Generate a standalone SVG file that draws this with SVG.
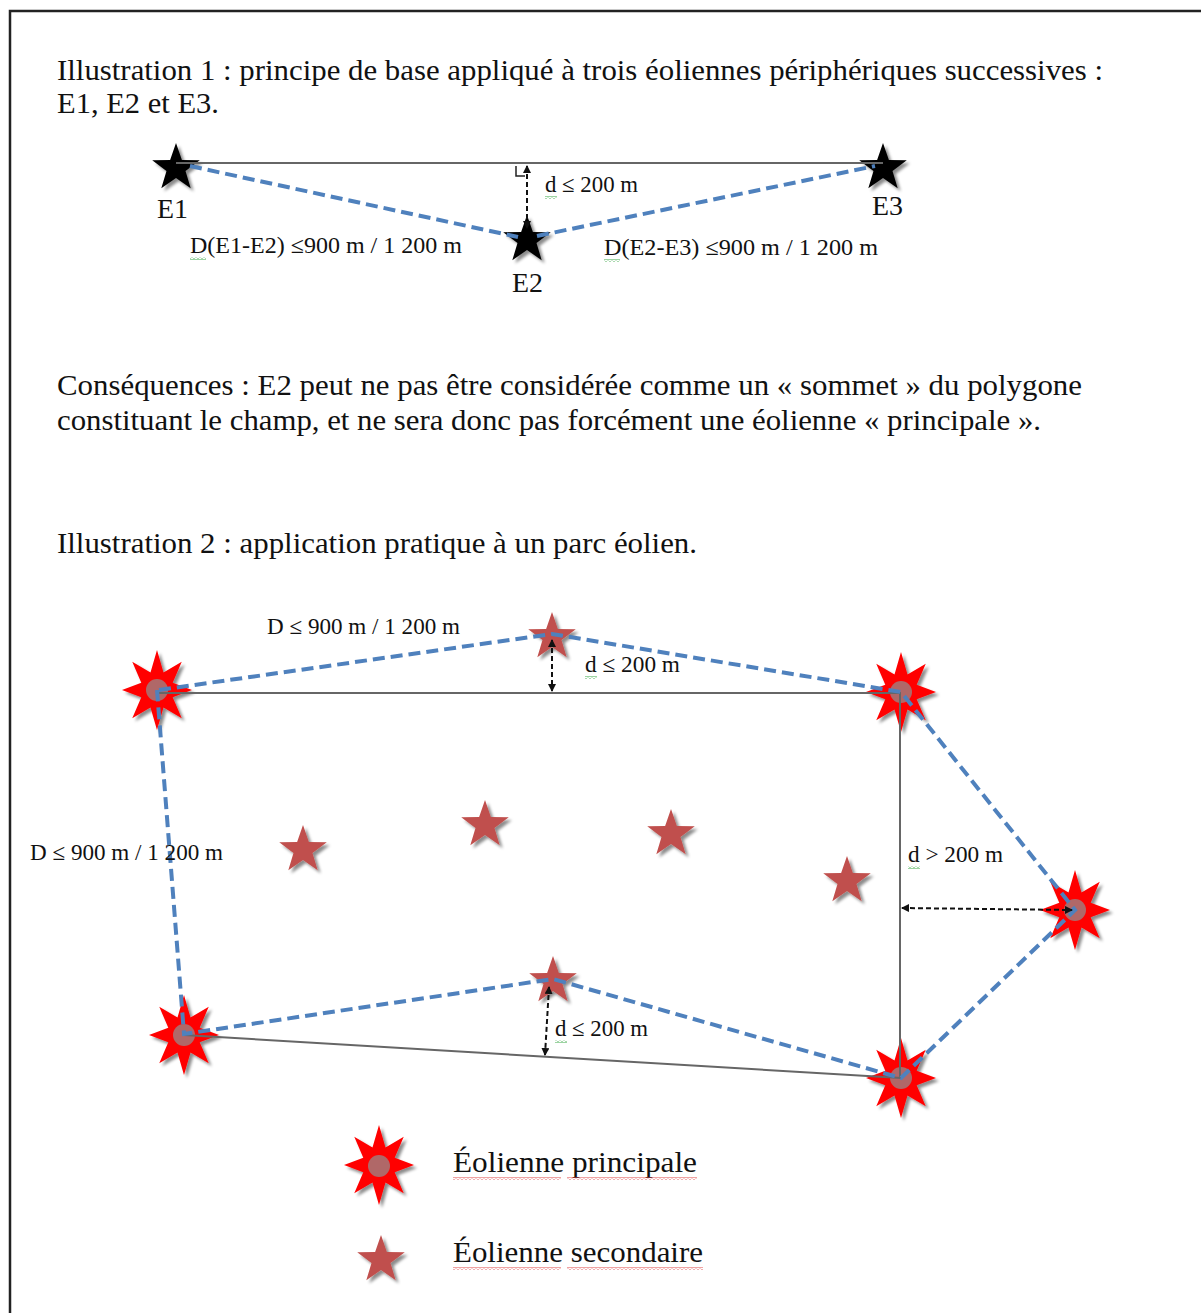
<svg xmlns="http://www.w3.org/2000/svg" width="1201" height="1313" viewBox="0 0 1201 1313">
<style>
.t{font-family:"Liberation Serif","Times New Roman",serif;fill:#111;}
.h{font-size:30px;}
.l{font-size:23px;}
.lg{font-size:30px;}
.blue{fill:none;stroke:#4F81BD;stroke-width:4;stroke-dasharray:12 6;}
.gray{fill:none;stroke:#666;stroke-width:2;}
.arr{fill:none;stroke:#111;stroke-width:2;stroke-dasharray:5 3;marker-start:url(#ah);marker-end:url(#ah);}
.prim{fill:#FF0000;}
.hub{fill:#B06868;}
.sec{fill:#C0504D;}
.blk{fill:#000;}
</style>
<defs>
<filter id="sh" x="-30%" y="-30%" width="160%" height="160%">
<feDropShadow dx="3" dy="3" stdDeviation="1.5" flood-color="#000" flood-opacity="0.45"/>
</filter>
<path id="star8" d="M0,-40 L6.51,-17.55 L24.75,-28.28 L15.71,-7.27 L35,0 L15.71,7.27 L24.75,28.28 L6.51,17.55 L0,40 L-6.51,17.55 L-24.75,28.28 L-15.71,7.27 L-35,0 L-15.71,-7.27 L-24.75,-28.28 L-6.51,-17.55 Z"/>
<path id="star5" d="M0,-25 L5.88,-8.09 L23.78,-7.73 L9.51,3.09 L14.69,20.23 L0,10 L-14.69,20.23 L-9.51,3.09 L-23.78,-7.73 L-5.88,-8.09 Z"/>
<marker id="ah" viewBox="0 0 8 8" refX="7" refY="4" markerWidth="8" markerHeight="8" markerUnits="userSpaceOnUse" orient="auto-start-reverse">
<path d="M0,0 L8,4 L0,8 Z" fill="#111"/>
</marker>
<pattern id="zr" width="4" height="3" patternUnits="userSpaceOnUse">
<path d="M0,2.5 L2,0.5 L4,2.5" fill="none" stroke="#e04848" stroke-width="1"/>
</pattern>
<pattern id="zg" width="4" height="3" patternUnits="userSpaceOnUse">
<path d="M0,2.5 L2,0.5 L4,2.5" fill="none" stroke="#3aa845" stroke-width="1"/>
</pattern>
</defs>
<rect width="1201" height="1313" fill="#fff"/>
<g id="frame">
<path d="M10,1313 V11 H1201" fill="none" stroke="#222" stroke-width="2.5"/>
</g>

<g id="texts">
<text class="t h" x="57" y="80" textLength="1046" lengthAdjust="spacingAndGlyphs">Illustration 1 : principe de base appliqué à trois éoliennes périphériques successives :</text>
<text class="t h" x="57" y="113" textLength="162" lengthAdjust="spacingAndGlyphs">E1, E2 et E3.</text>
<text class="t h" x="57" y="395" textLength="1025" lengthAdjust="spacingAndGlyphs">Conséquences : E2 peut ne pas être considérée comme un « sommet » du polygone</text>
<text class="t h" x="57" y="430" textLength="984" lengthAdjust="spacingAndGlyphs">constituant le champ, et ne sera donc pas forcément une éolienne « principale ».</text>
<text class="t h" x="57" y="553" textLength="640" lengthAdjust="spacingAndGlyphs">Illustration 2 : application pratique à un parc éolien.</text>
</g>

<g id="E1">
<use href="#star5" class="blk" transform="translate(176,168)" filter="url(#sh)"/>
<text class="t" x="157" y="218" font-size="27" textLength="31" lengthAdjust="spacingAndGlyphs">E1</text>
</g>
<g id="E2">
<use href="#star5" class="blk" transform="translate(527,240)" filter="url(#sh)"/>
<text class="t" x="512" y="292" font-size="27" textLength="31" lengthAdjust="spacingAndGlyphs">E2</text>
</g>
<g id="E3">
<use href="#star5" class="blk" transform="translate(883,168)" filter="url(#sh)"/>
<text class="t" x="872" y="215" font-size="27" textLength="31" lengthAdjust="spacingAndGlyphs">E3</text>
</g>

<g id="P1"><use href="#star8" class="prim" transform="translate(157,690)" filter="url(#sh)"/><circle class="hub" cx="157" cy="690" r="11"/></g>
<g id="P2"><use href="#star8" class="prim" transform="translate(901,692)" filter="url(#sh)"/><circle class="hub" cx="901" cy="692" r="11"/></g>
<g id="P3"><use href="#star8" class="prim" transform="translate(1075,910)" filter="url(#sh)"/><circle class="hub" cx="1075" cy="910" r="11"/></g>
<g id="P4"><use href="#star8" class="prim" transform="translate(184,1035)" filter="url(#sh)"/><circle class="hub" cx="184" cy="1035" r="11"/></g>
<g id="P5"><use href="#star8" class="prim" transform="translate(901,1078)" filter="url(#sh)"/><circle class="hub" cx="901" cy="1078" r="11"/></g>
<g id="Stop"><use href="#star5" class="sec" transform="translate(552,637)" filter="url(#sh)"/></g>
<g id="S1"><use href="#star5" class="sec" transform="translate(303,850)" filter="url(#sh)"/></g>
<g id="S2"><use href="#star5" class="sec" transform="translate(485,825)" filter="url(#sh)"/></g>
<g id="S3"><use href="#star5" class="sec" transform="translate(671,834)" filter="url(#sh)"/></g>
<g id="S4"><use href="#star5" class="sec" transform="translate(847,881)" filter="url(#sh)"/></g>
<g id="Sbot"><use href="#star5" class="sec" transform="translate(553,981)" filter="url(#sh)"/></g>

<g id="legend-principale">
<use href="#star8" class="prim" transform="translate(379,1165)" filter="url(#sh)"/>
<circle class="hub" cx="379" cy="1166" r="11"/>
<text class="t lg" x="453" y="1172" textLength="244" lengthAdjust="spacingAndGlyphs">Éolienne principale</text>
<rect x="453" y="1177" width="108" height="3" fill="url(#zr)"/>
<rect x="567" y="1177" width="130" height="3" fill="url(#zr)"/>
</g>
<g id="legend-secondaire">
<use href="#star5" class="sec" transform="translate(381,1260)" filter="url(#sh)"/>
<text class="t lg" x="453" y="1262" textLength="250" lengthAdjust="spacingAndGlyphs">Éolienne secondaire</text>
<rect x="453" y="1267" width="108" height="3" fill="url(#zr)"/>
<rect x="567" y="1267" width="136" height="3" fill="url(#zr)"/>
</g>

<g id="connectors">
<line class="gray" x1="176" y1="163" x2="883" y2="163"/>
<path class="blue" d="M190,166 L518,237 M537,236 L875,166"/>
<line class="arr" x1="527" y1="166" x2="527" y2="228"/>
<polyline fill="none" stroke="#222" stroke-width="1.5" points="525,176 516,176 516,166"/>
<line class="gray" x1="157" y1="693" x2="901" y2="693"/>
<line class="gray" x1="900" y1="693" x2="900" y2="1078"/>
<line class="gray" x1="184" y1="1035" x2="901" y2="1078"/>
<path class="blue" d="M159,690 L552,634 L901,692 L1075,910 L901,1078 L553,979 L184,1034 L157,690"/>
<line class="arr" x1="552" y1="640" x2="552" y2="691"/>
<line class="arr" x1="549" y1="987" x2="545" y2="1055"/>
<line class="arr" x1="902" y1="908" x2="1072" y2="910"/>
</g>

<g id="labels">
<text class="t l" x="190" y="253" textLength="272" lengthAdjust="spacingAndGlyphs">D(E1-E2)  ≤900 m / 1 200 m</text>
<rect x="190" y="257" width="16" height="3" fill="url(#zg)"/>
<text class="t l" x="545" y="192" textLength="93" lengthAdjust="spacingAndGlyphs">d ≤ 200 m</text>
<rect x="545" y="196" width="12" height="3" fill="url(#zg)"/>
<text class="t l" x="604" y="255" textLength="274" lengthAdjust="spacingAndGlyphs">D(E2-E3)  ≤900 m / 1 200 m</text>
<rect x="604" y="259" width="16" height="3" fill="url(#zg)"/>
<text class="t l" x="267" y="634" textLength="193" lengthAdjust="spacingAndGlyphs">D ≤ 900 m / 1 200 m</text>
<text class="t l" x="585" y="672" textLength="95" lengthAdjust="spacingAndGlyphs">d ≤ 200 m</text>
<rect x="585" y="676" width="12" height="3" fill="url(#zg)"/>
<text class="t l" x="30" y="860" textLength="193" lengthAdjust="spacingAndGlyphs">D ≤ 900 m / 1 200 m</text>
<text class="t l" x="908" y="862" textLength="95" lengthAdjust="spacingAndGlyphs">d &gt; 200 m</text>
<rect x="908" y="866" width="12" height="3" fill="url(#zg)"/>
<text class="t l" x="555" y="1036" textLength="93" lengthAdjust="spacingAndGlyphs">d ≤ 200 m</text>
<rect x="555" y="1040" width="12" height="3" fill="url(#zg)"/>
</g>
</svg>
